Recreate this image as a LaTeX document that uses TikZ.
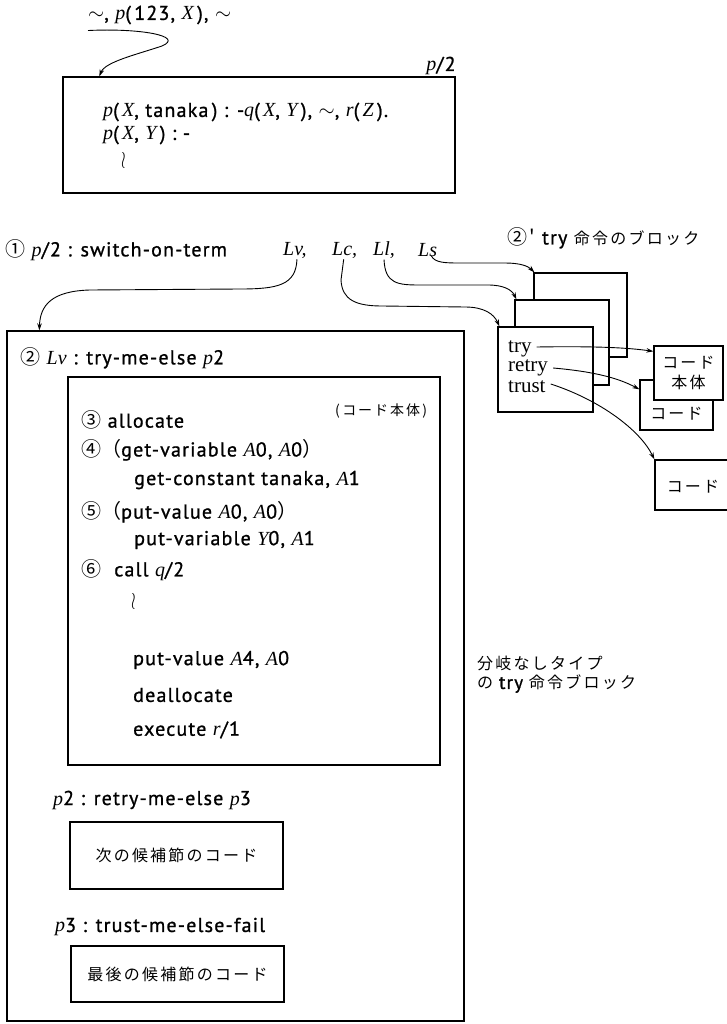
\documentclass[tikz,border=0pt]{standalone}
\usepackage{fontspec}
\setmainfont{PT Sans}[LetterSpace=6,FakeBold=1]
\newfontfamily\sr{Liberation Serif}
\newfontfamily\jp{Noto Sans CJK JP}[LetterSpace=14]
\usetikzlibrary{arrows.meta,calc}
\newcommand\vv[1]{{\sr\itshape #1}}
\newcommand\tl{$\sim$}
\newcommand\lp{{\jp\addfontfeatures{LetterSpace=0}（}}
\newcommand\rp{{\jp\addfontfeatures{LetterSpace=0}）}}
\newcommand\sq{\scalebox{0.8}[1.15]{$\wr$}}
\begin{document}
\begin{tikzpicture}[x=1pt,y=-1pt,
  box/.style={draw, line width=1.3pt, fill=white, inner sep=0pt},
  conn/.style={line width=0.9pt, -{Stealth[length=7pt,width=4.5pt]}},
  txt/.style={anchor=west, inner sep=0pt, font=\fontsize{20}{23}\selectfont},
  jtxt/.style={inner sep=0pt, font=\fontsize{16}{20}\selectfont\jp},
  wrd/.style={anchor=west, inner sep=0pt, font=\fontsize{20}{23}\selectfont\sr}]
\useasboundingbox (0,0) rectangle (726,1024);
\fill[white] (0,0) rectangle (726,1024);

% ---------- top: p/2 clauses ----------
\node[txt] (call) at (88,15) {\tl, \vv{p}(\,123, \vv{X}\,), \tl};
\node[box, minimum width=392pt, minimum height=116pt] (p2box) at (259,135) {};
\node[txt, anchor=center] (p2lbl) at (441,66) {\vv{p}/2};
\node[txt] (cl1) at (103,112) {\vv{p}(\,\vv{X}, tanaka\,) : -\vv{q}(\,\vv{X}, \vv{Y}\,), \tl, \vv{r}(\,\vv{Z}\,).};
\node[txt] (cl2) at (103,135) {\vv{p}(\,\vv{X}, \vv{Y}\,) : -};
\node[txt] (cl3) at (121,161) {\sq};
\draw[conn] ($(call.south west)+(0,6)$) .. controls (140,28) and (185,36) .. (162,46)
   .. controls (135,55) and (105,62) .. ($(p2box.north west)+(37,0)$);

% ---------- switch-on-term line ----------
\node[txt] (sw) at (5,250) {{\jp ①} \vv{p}/2 : switch-on-term};
\node[wrd] (Lv) at (283,250) {\itshape Lv,};
\node[wrd] (Lc) at (332,250) {\itshape Lc,};
\node[wrd] (Ll) at (373,250) {\itshape Ll,};
\node[wrd] (Ls) at (418,250) {\itshape Ls};
\node[txt] (tblk) at (507,238) {{\jp ②'} try {\jp\fontsize{16}{20}\selectfont 命令のブロック}};

% ---------- main box ----------
\node[box, minimum width=457pt, minimum height=690pt] (main) at (235.5,676) {};
\node[txt] (lvl) at (20,358) {{\jp ②} \vv{Lv} : try-me-else \vv{p}2};
\node[box, minimum width=372pt, minimum height=388pt] (code) at (254,571) {};
\node[jtxt, anchor=west, font=\fontsize{14}{18}\selectfont\jp] (cbl) at (335,411) {(\,コード本体\,)};
\node[txt] (i1) at (81,420) {{\jp ③} allocate};
\node[txt] (i2) at (81,450) {{\jp ④}\lp get-variable \vv{A}0, \vv{A}0\rp};
\node[txt] (i3) at (134,480) {get-constant tanaka, \vv{A}1};
\node[txt] (i4) at (81,512) {{\jp ⑤}\lp put-value \vv{A}0, \vv{A}0\rp};
\node[txt] (i5) at (134,540) {put-variable \vv{Y}0, \vv{A}1};
\node[txt] (i6) at (81,570) {{\jp ⑥}\ \ call \vv{q}/2};
\node[txt] (i7) at (131,602) {\sq};
\node[txt] (i8) at (133,660) {put-value \vv{A}4, \vv{A}0};
\node[txt] (i9) at (133,695) {deallocate};
\node[txt] (i10) at (133,730) {execute \vv{r}/1};

\node[txt] (rl) at (53,800) {\vv{p}2 : retry-me-else \vv{p}3};
\node[box, minimum width=213pt, minimum height=67pt] (rbox) at (176.5,855.5) {};
\node[jtxt] (rt) at (rbox.center) {次の候補節のコード};
\node[txt] (tl) at (55,927) {\vv{p}3 : trust-me-else-fail};
\node[box, minimum width=213pt, minimum height=56pt] (tbox) at (177.5,974) {};
\node[jtxt] (tt) at (tbox.center) {最後の候補節のコード};

\node[jtxt, anchor=west] (nb1) at (477,663) {分岐なしタイプ};
\node[jtxt, anchor=west] (nb2) at (477,684) {の {\rmfamily\fontsize{19}{22}\selectfont try} 命令ブロック};

% ---------- try blocks ----------
\node[box, minimum width=93pt, minimum height=84pt] (bk) at (580.5,315) {};
\node[box, minimum width=94pt, minimum height=85pt] (md) at (562,342.5) {};
\node[box, minimum width=95pt, minimum height=85pt] (fr) at (545.5,369.5) {};
\node[wrd, font=\fontsize{21}{22}\selectfont\sr] (tryT) at (508,349) {try};
\node[wrd, font=\fontsize{21}{22}\selectfont\sr] (retryT) at (508,368) {retry};
\node[wrd, font=\fontsize{21}{22}\selectfont\sr] (trustT) at (508,387) {trust};

\node[box, minimum width=73pt, minimum height=50pt] (code2) at (676.5,405) {};
\node[jtxt] (c2t) at ($(code2.center)+(0,9)$) {コード};
\node[box, minimum width=69pt, minimum height=54pt] (body) at (688.5,373) {};
\node[jtxt, align=center] (bt) at (body.center) {コード\\本体};
\node[box, minimum width=90pt, minimum height=50pt] (code3) at (700,485) {};
\node[jtxt] (c3t) at (693,487) {コード};

% ---------- connectors ----------
\draw[conn] ($(Lv.south)+(2,1)$) .. controls (296,285) and (278,289) .. (240,289)
   -- (90,290) .. controls (52,291) and (40,305) .. ($(main.north west)+(33,0)$);
\draw[conn] ($(Lc.south)+(-1,1)$) -- (341,280) .. controls (342,300) and (356,306) .. (382,306)
   -- (465,307) .. controls (484,307) and (494,314) .. ($(fr.north west)+(2,0)$);
\draw[conn] ($(Ll.south)+(0,1)$) .. controls (385,284) and (398,285) .. (420,285)
   -- (488,285) .. controls (504,285) and (512,290) .. ($(md.north west)+(2,0)$);
\draw[conn] ($(Ls.south east)+(-6,-1)$) .. controls (435,263) and (445,263) .. (462,263)
   -- (505,263) .. controls (520,263) and (528,266) .. ($(bk.north west)+(1,0)$);

\draw[conn] ($(tryT.east)+(5,-2)$) .. controls (600,346) and (630,348) .. ($(body.north west)+(0,6)$);
\draw[conn] ($(retryT.east)+(5,0)$) .. controls (600,372) and (622,380) .. ($(code2.north west)+(0,10)$);
\draw[conn] ($(trustT.east)+(5,-3)$) .. controls (600,400) and (640,430) .. (code3.north west);
\end{tikzpicture}
\end{document}
